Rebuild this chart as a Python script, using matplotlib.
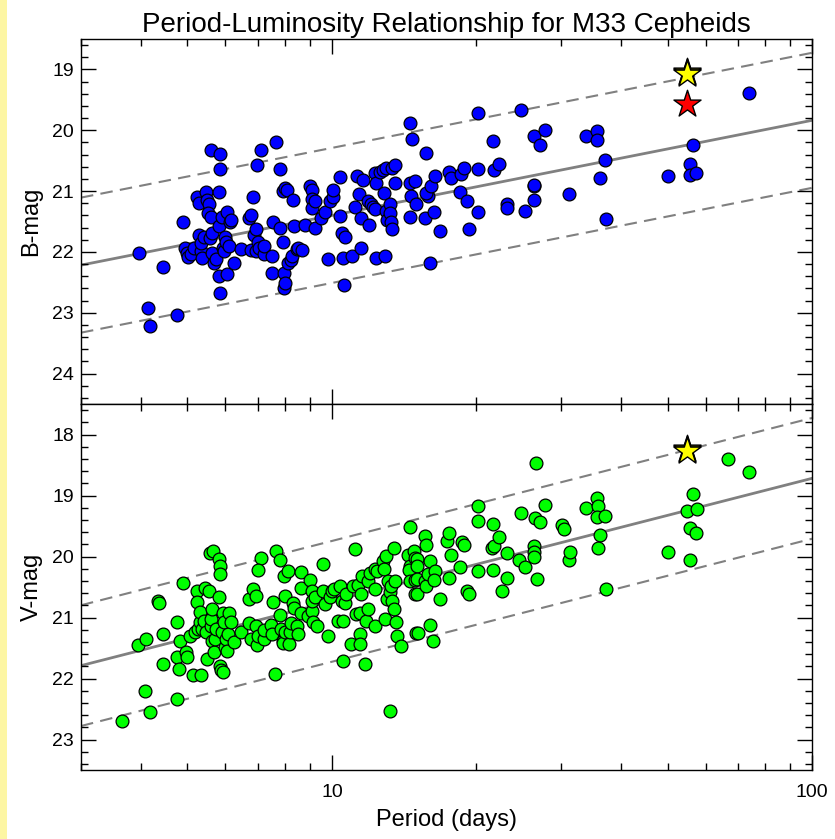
import numpy as np
import matplotlib
matplotlib.use('Agg')
import matplotlib.pyplot as plt
from matplotlib.ticker import LogLocator, MultipleLocator, NullFormatter, FixedLocator, FixedFormatter
from matplotlib.patches import Rectangle

plt.rcParams['font.family'] = ['Liberation Sans', 'DejaVu Sans']

#%% B-band cepheids: period (days), B magnitude
b_period = [3.96, 4.13, 4.18, 4.44, 4.75, 4.9, 4.95, 5.0, 5.02, 5.08, 5.17, 5.24, 5.28, 5.28,
            5.34, 5.35, 5.34, 5.42, 5.47, 5.5, 5.55, 5.53, 5.58, 5.6, 5.59, 5.63, 5.63, 5.67,
            5.73, 5.85, 5.83, 5.81, 5.81, 5.82, 5.85, 5.89, 5.93, 5.95, 5.98, 6.03, 6.05, 6.02,
            6.1, 6.14, 6.16, 6.26, 6.47, 6.7, 6.77, 6.79, 6.85, 6.88, 6.96, 6.96, 6.99, 7.0,
            7.05, 7.1, 7.2, 7.22, 7.5, 7.5, 7.55, 7.65, 7.79, 7.8, 7.9, 7.9, 7.95, 7.95, 8.0,
            8.0, 8.05, 8.1, 8.2, 8.25, 8.3, 8.33, 8.45, 8.5, 8.65, 8.8, 9.0, 9.07, 9.07, 9.07,
            9.2, 9.2, 9.5, 9.67, 9.8, 9.9, 10.03, 10.06, 10.39, 10.39, 10.47, 10.64, 10.55,
            10.59, 11.0, 11.18, 11.3, 11.4, 11.48, 11.48, 11.63, 11.9, 11.95, 12.04, 12.2, 12.3,
            12.34, 12.32, 12.34, 12.6, 12.77, 12.86, 12.9, 12.95, 12.98, 13.05, 13.2, 13.2,
            13.27, 13.36, 13.36, 13.5, 13.5, 14.54, 14.7, 14.54, 14.6, 14.54, 14.9, 14.96,
            15.7, 15.6, 15.85, 15.7, 16.1, 16.4, 16.3, 16.75, 16.0, 17.5, 17.7, 18.6, 18.8,
            18.5, 19.1, 19.25, 20.1, 20.1, 20.1, 21.7, 21.8, 22.3, 23.1, 23.2, 24.8, 25.2,
            26.3, 26.4, 26.4, 26.4, 27.1, 27.8, 31.1, 33.8, 35.6, 35.7, 36.2, 37.1, 37.3,
            50.1, 55.7, 55.7, 57.2, 56.6, 73.8]
b_mag = [22.02, 22.93, 23.21, 22.24, 23.03, 21.5, 21.93, 22.02, 22.08, 22.03, 21.93, 21.09, 21.19, 21.72,
         21.99, 22.1, 21.85, 21.75, 21.02, 21.14, 21.21, 21.36, 21.77, 21.42, 20.33, 21.69, 22.02, 22.18,
         22.11, 20.39, 20.63, 21.02, 21.58, 22.4, 22.67, 21.43, 21.93, 21.99, 21.75, 21.35, 22.37, 21.83,
         21.91, 21.5, 21.47, 22.18, 21.96, 21.44, 21.4, 21.97, 21.09, 21.73, 21.63, 21.99, 20.57, 21.83,
         21.93, 20.32, 22.04, 21.91, 22.07, 22.34, 21.5, 20.19, 20.64, 21.61, 21.0, 21.83, 22.34, 22.59, 22.51,
         20.95, 20.98, 22.19, 22.13, 22.07, 21.14, 21.58, 21.96, 21.93, 21.97, 21.55, 20.92, 20.98, 21.13, 21.28,
         21.17, 21.61, 21.44, 21.35, 22.11, 21.17, 21.09, 20.98, 20.77, 21.41, 21.69, 21.75, 22.1,
         22.55, 22.07, 21.26, 20.75, 21.04, 21.44, 21.93, 20.82, 21.17, 21.55, 21.21, 21.26, 20.7,
         20.86, 21.3, 22.1, 20.69, 20.66, 21.03, 22.06, 21.33, 20.62, 21.47, 21.21, 21.36,
         21.5, 20.62, 21.63, 20.57, 20.86, 19.88, 20.15, 20.86, 21.08, 21.42, 20.84, 21.21,
         20.37, 21.44, 21.08, 21.03, 20.91, 20.75, 21.35, 21.66, 22.18, 20.69, 20.79, 20.72, 20.62,
         21.02, 21.17, 21.62, 19.72, 20.64, 21.35, 20.17, 20.66, 20.55, 21.21, 21.28, 19.66, 21.33,
         20.92, 20.9, 21.15, 20.1, 20.24, 20.0, 21.04, 20.09, 20.02, 20.16, 20.79, 20.49, 21.46,
         20.76, 20.56, 20.73, 20.7, 20.24, 19.39]

#%% V-band cepheids: period (days), V magnitude
v_period = [3.65, 3.95, 4.1, 4.08, 4.18, 4.35, 4.37, 4.44, 4.44, 4.75, 4.75, 4.75, 4.8, 4.82, 4.9,
            4.97, 5.0, 5.07, 5.14, 5.18, 5.24, 5.24, 5.25, 5.3, 5.32, 5.34, 5.36, 5.42, 5.43, 5.46,
            5.49, 5.55, 5.58, 5.59, 5.6, 5.63, 5.63, 5.65, 5.68, 5.7, 5.73, 5.81, 5.82, 5.85, 5.85,
            5.85, 5.87, 5.93, 5.9, 5.93, 5.96, 5.98, 6.02, 6.05, 6.06, 6.1, 6.16, 6.26, 6.47, 6.7,
            6.73, 6.77, 6.83, 6.93, 6.96, 6.99, 7.0, 7.1, 7.0, 7.2, 7.22, 7.45, 7.5, 7.55, 7.6,
            7.65, 7.79, 7.8, 7.83, 7.9, 7.9, 7.95, 8.0, 8.0, 8.1, 8.15, 8.18, 8.2, 8.3, 8.35, 8.45,
            8.5, 8.6, 8.6, 8.63, 8.9, 9.0, 9.07, 9.07, 9.1, 9.15, 9.2, 9.3, 9.56, 9.56, 9.67, 9.8,
            9.9, 10.0, 10.1, 10.3, 10.39, 10.47, 10.55, 10.55, 10.64, 10.7, 10.95, 11.07, 11.18,
            11.2, 11.35, 11.44, 11.44, 11.44, 11.48, 11.53, 11.7, 11.8, 11.9, 11.9, 12.0, 12.3,
            12.3, 12.3, 12.4, 12.77, 12.86, 12.9, 12.95, 13.05, 13.1, 13.2, 13.2, 13.27, 13.36,
            13.45, 13.45, 13.5, 13.6, 13.65, 13.9, 14.54, 14.4, 14.54, 14.8, 14.5, 14.54, 14.9,
            14.9, 14.96, 14.9, 15.6, 15.7, 15.0, 15.0, 15.0, 15.0, 15.6, 15.7, 15.85, 16.0, 16.4,
            16.3, 16.75, 15.1, 16.0, 16.2, 17.4, 17.5, 17.7, 17.5, 18.5, 18.7, 18.8, 19.1, 19.25,
            20.1, 20.1, 20.1, 21.6, 21.7, 21.5, 21.8, 22.3, 22.6, 23.2, 23.2, 24.5, 24.8, 25.2,
            26.3, 26.4, 26.4, 26.5, 26.6, 26.8, 27.1, 27.8, 30.2, 30.4, 31.1, 31.3, 33.8, 35.6,
            35.8, 35.6, 37.1, 36.2, 35.9, 37.3, 50.1, 54.8, 57.5, 56.6, 55.7, 57.2, 55.7, 66.9, 73.8]
v_mag = [22.7, 21.45, 21.36, 22.2, 22.55, 20.73, 20.76, 21.27, 21.77, 21.07, 21.64, 22.34, 21.85, 21.38, 20.44,
         21.56, 21.64, 21.31, 21.94, 21.23, 20.57, 20.74, 21.19, 21.08, 20.91, 21.94, 21.19, 21.05, 20.51, 21.24,
         21.68, 20.56, 19.95, 21.14, 21.03, 20.86, 21.38, 19.91, 21.57, 21.36, 21.19, 20.04, 20.67, 20.15, 20.28,
         21.79, 21.86, 21.89, 21.24, 20.93, 21.07, 21.49, 21.36, 21.55, 21.27, 20.93, 21.07, 21.4, 21.24, 21.09,
         20.7, 21.36, 20.54, 20.64, 21.14, 21.45, 21.3, 20.02, 20.22, 21.36, 21.21, 21.13, 21.27, 20.74, 21.93,
         19.91, 20.05, 20.96, 21.19, 21.38, 21.41, 20.32, 20.65, 21.24, 20.24, 21.44, 21.23, 21.09, 20.76, 20.84, 21.14,
         21.27, 20.26, 20.51, 20.93, 20.98, 20.38, 20.57, 20.89, 20.73, 21.07, 20.66, 21.14, 20.57, 20.13, 20.78, 21.31,
         20.67, 20.57, 20.54, 21.05, 20.48, 20.73, 21.05, 21.71, 20.76, 20.62, 21.44, 20.48, 19.87,
         20.95, 20.46, 20.93, 21.27, 21.44, 20.62, 20.32, 21.76, 21.05, 20.4, 20.86, 20.27, 21.14,
         20.54, 20.21, 20.24, 20.08, 20.21, 21.03, 19.99, 20.7, 20.4, 20.59, 22.54, 20.48, 20.73,
         20.86, 19.86, 20.4, 21.08, 21.31, 21.46, 19.52, 19.98, 20.15, 19.91, 20.22, 20.4, 20.62,
         20.38, 21.26, 20.02, 19.67, 19.81, 20.04, 20.16, 20.37, 20.62, 20.4, 20.48, 20.29, 20.07, 20.24,
         20.38, 20.69, 21.26, 21.12, 21.38, 19.74, 19.61, 19.98, 20.36, 20.18, 19.77, 19.81, 20.56, 20.61,
         19.18, 19.41, 20.24, 20.22, 19.46, 19.86, 19.83, 19.68, 20.57, 19.94, 20.35, 20.06, 19.28, 20.17,
         19.82, 19.93, 20.0, 19.37, 18.47, 20.37, 19.43, 19.15, 19.49, 19.55, 20.05, 19.93, 19.21, 19.04,
         19.18, 19.35, 19.34, 19.65, 19.86, 20.54, 19.93, 19.26, 19.22, 18.97, 19.53, 19.62, 20.06, 18.4, 18.61]

#%% highlighted objects (stars)
star_period = 54.8
b_star_yellow = [19.04, 19.06, 19.08]
b_star_red = 19.57
v_star_yellow = [18.23, 18.25, 18.27]

#%% PL fit: mag = zero + slope*(logP - 1), dashed lines at +-width
b_zero, b_slope, b_width = 21.40, -1.563, 1.11
v_zero, v_slope, v_width = 20.735, -2.016, 0.99

#%% plotting
fig = plt.figure(figsize=(8.35, 8.39), dpi=100)
fig.patches.append(Rectangle((0, 0), 7/835, 1, transform=fig.transFigure,
                             facecolor='#fdf6a3', edgecolor='none', zorder=0))
ax1 = fig.add_axes([81/835, 1-404/839, 731/835, 365/839])
ax2 = fig.add_axes([81/835, 1-770/839, 731/835, 366/839], sharex=ax1)

logp = np.log10(np.array([3.0, 100.0]))
xx = 10**logp

def panel(ax, per, mag, col, zero, slope, width, ylim, ylab):
    yy = zero + slope*(logp - 1)
    ax.plot(xx, yy, color='#808080', lw=2.0, zorder=1)
    ax.plot(xx, yy - width, color='#808080', lw=1.5, ls=(0, (6, 3.5)), zorder=1)
    ax.plot(xx, yy + width, color='#808080', lw=1.5, ls=(0, (6, 3.5)), zorder=1)
    ax.scatter(per, mag, s=85, c=col, edgecolors='black', linewidths=0.9, zorder=3)
    ax.set_xscale('log')
    ax.set_xlim(3.0, 100)
    ax.set_ylim(ylim)
    ax.yaxis.set_major_locator(MultipleLocator(1))
    ax.yaxis.set_minor_locator(MultipleLocator(0.2))
    ax.xaxis.set_major_locator(FixedLocator([10, 100]))
    ax.xaxis.set_minor_locator(LogLocator(base=10, subs=np.arange(2, 10)))
    ax.xaxis.set_minor_formatter(NullFormatter())
    ax.tick_params(which='both', direction='in', top=True, right=True, labelsize=14, width=1)
    ax.tick_params(which='major', length=10.5)
    ax.tick_params(which='minor', length=5.3)
    ax.tick_params(axis='y', pad=5)
    ax.tick_params(axis='x', pad=10)
    ax.set_ylabel(ylab, fontsize=17, labelpad=7)
    for s in ax.spines.values():
        s.set_linewidth(1.0)

panel(ax1, b_period, b_mag, '#0000ff', b_zero, b_slope, b_width, (24.5, 18.5), 'B-mag')
panel(ax2, v_period, v_mag, '#00ff00', v_zero, v_slope, v_width, (23.5, 17.5), 'V-mag')

ax1.scatter([star_period]*3, b_star_yellow, marker='*', s=420, c='#ffff00', edgecolors='black', linewidths=1.0, zorder=4)
ax1.scatter([star_period], [b_star_red], marker='*', s=420, c='#ff0000', edgecolors='black', linewidths=1.0, zorder=4)
ax2.scatter([star_period]*3, v_star_yellow, marker='*', s=420, c='#ffff00', edgecolors='black', linewidths=1.0, zorder=4)

plt.setp(ax1.get_xticklabels(), visible=False)
ax2.xaxis.set_major_formatter(FixedFormatter(['10', '100']))
ax2.set_xlabel('Period (days)', fontsize=17, labelpad=6)
ax1.set_title('Period-Luminosity Relationship for M33 Cepheids', fontsize=20, pad=5)

fig.savefig('out.png', dpi=100)
